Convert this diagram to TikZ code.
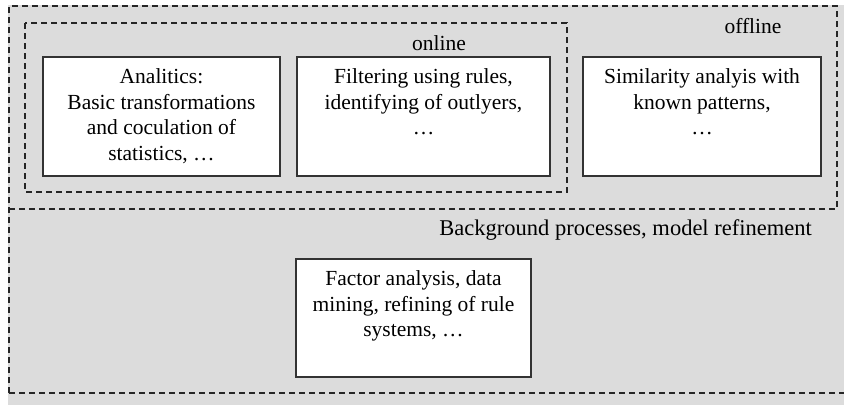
\documentclass[tikz,border=0pt]{standalone}
\usepackage{fontspec}
\setmainfont{Liberation Serif}
\definecolor{bggray}{HTML}{DCDCDC}
\definecolor{edge}{HTML}{333333}
\tikzset{
  dashline/.style={draw=black!85, line width=1.1pt, dash pattern=on 6pt off 4pt},
  procbox/.style={draw=edge, fill=white, line width=1.2pt, rectangle, inner sep=0pt},
  boxtext/.style={anchor=north, align=center, inner sep=0pt, font=\fontsize{21.5}{25.5}\selectfont},
  lbl/.style={inner sep=0pt, font=\fontsize{21.5}{25.5}\selectfont}
}
\begin{document}
\begin{tikzpicture}[x=1pt,y=-1pt]
\useasboundingbox (0,0) rectangle (844,405);
\fill[bggray] (8,5) rectangle (844,405);
% regions
\draw[dashline] (9,393) -- (9,6) -- (837,6) -- (837,209) -- (9,209);
\draw[dashline] (9,393) -- (844,393);
\draw[dashline] (25,23) rectangle (567,192);
% labels
\node[lbl, anchor=base] (online) at (439,50) {online};
\node[lbl, anchor=base] (offline) at (753,33) {offline};
\node[lbl, anchor=base east, font=\fontsize{22.5}{25.5}\selectfont] (bgproc) at (812,235) {Background processes, model refinement};
% boxes
\node[procbox, minimum width=237pt, minimum height=119pt] (ana) at (161.5,116.5) {};
\node[procbox, minimum width=253pt, minimum height=119pt] (filt) at (423.5,116.5) {};
\node[procbox, minimum width=238pt, minimum height=119pt] (sim) at (702,116.5) {};
\node[procbox, minimum width=235pt, minimum height=118pt] (fact) at (413.5,318) {};
% texts
\node[boxtext] (anat) at ([yshift=-12pt]ana.north) {Analitics:\\Basic transformations\\and coculation of\\statistics, \dots};
\node[boxtext] (filtt) at ([yshift=-12pt]filt.north) {Filtering using rules,\\identifying of outlyers,\\\dots};
\node[boxtext] (simt) at ([yshift=-12pt]sim.north) {Similarity analyis with\\known patterns,\\\dots};
\node[boxtext] (factt) at ([yshift=-12pt]fact.north) {Factor analysis, data\\mining, refining of rule\\systems, \dots};
\end{tikzpicture}
\end{document}
